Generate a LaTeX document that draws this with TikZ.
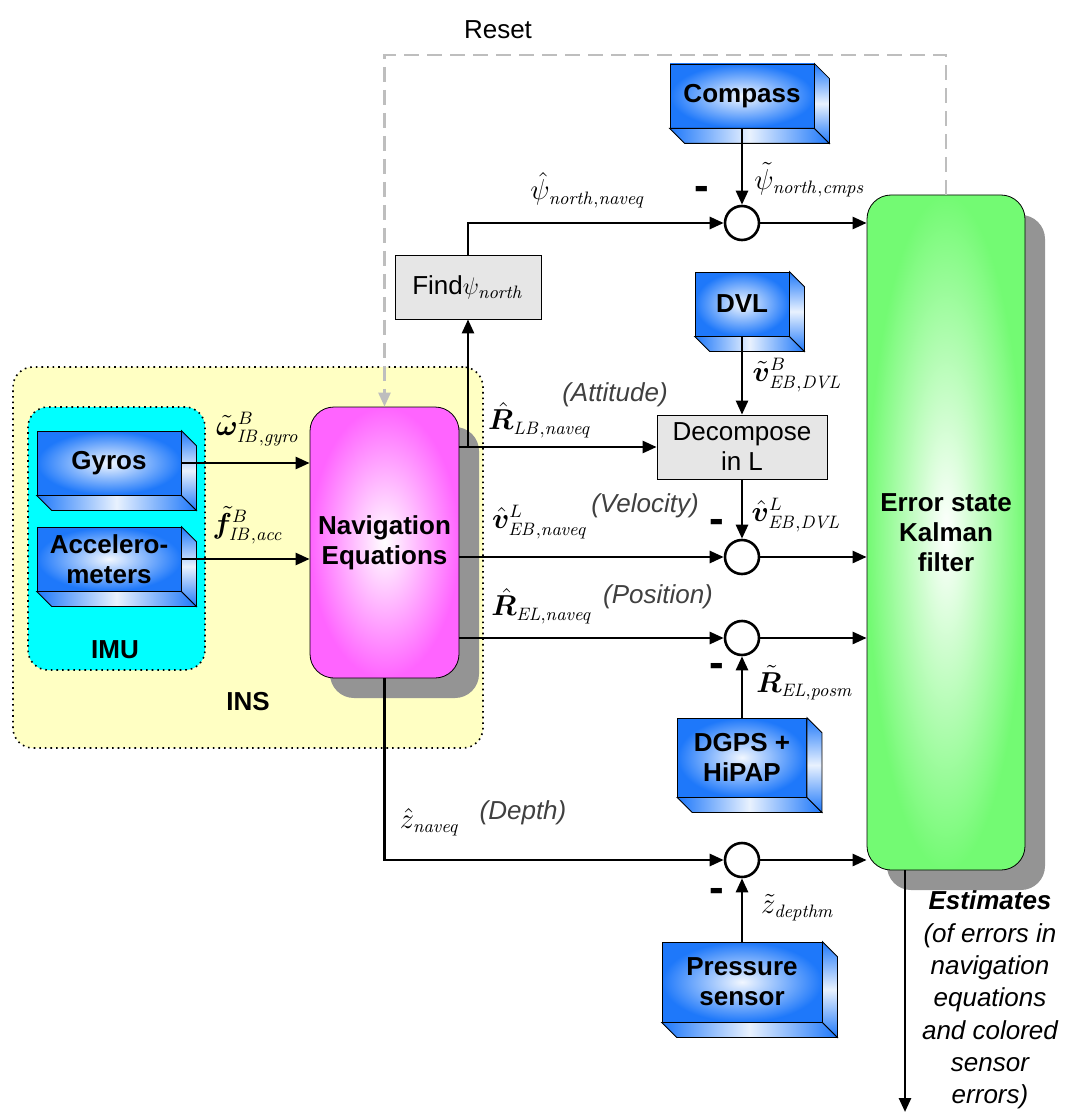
\documentclass[tikz,border=0pt]{standalone}
\usepackage{amsmath,amssymb,bm}
\usepackage[no-math]{fontspec}
\setmainfont{Liberation Sans}
\usetikzlibrary{positioning,arrows.meta,calc,shadows}
\definecolor{boxclr}{RGB}{30,120,250}
\definecolor{navclr}{RGB}{255,100,255}
\definecolor{kalclr}{RGB}{115,250,115}
\definecolor{imuclr}{RGB}{0,255,255}
\definecolor{insclr}{RGB}{255,255,195}
\definecolor{procclr}{RGB}{230,230,230}
\definecolor{rstclr}{RGB}{190,190,190}
\tikzset{
  sensor/.style={rectangle,draw=black,inner color=boxclr!6,outer color=boxclr,
                 font=\fontsize{13}{15}\selectfont\bfseries,align=center,inner sep=1pt},
  proc/.style={rectangle,draw=black,fill=procclr,inner sep=1pt,
               font=\fontsize{13}{15}\selectfont,align=center},
  sumnode/.style={circle,draw=black,line width=1.3pt,fill=white,
                  minimum size=17pt,inner sep=0pt},
  core/.style={rectangle,rounded corners=12pt,draw=black,align=center,
               font=\fontsize{13}{15}\selectfont\bfseries,
               drop shadow={shadow xshift=10pt,shadow yshift=-10pt,
                            fill=black!42,opacity=1}},
  region/.style={rectangle,rounded corners=10pt,draw=black,dotted,thick},
  tag/.style={font=\fontsize{13}{15}\selectfont\bfseries},
  sig/.style={font=\fontsize{13.5}{15}\selectfont,inner sep=0pt},
  note/.style={font=\fontsize{13}{15}\selectfont\itshape,text=black!75,inner sep=0pt},
  minus/.style={font=\fontsize{22}{22}\selectfont\bfseries,inner sep=0pt},
  edge/.style={-{Triangle[length=7pt,width=6pt]},line width=1.3pt},
  reset/.style={-{Triangle[length=7pt,width=6pt]},line width=1.3pt,draw=rstclr,
                dash pattern=on 7.5pt off 4pt},
}
% side faces of a sensor box
\newcommand{\boxsides}[1]{%
  \shadedraw[left color=boxclr,right color=boxclr,middle color=boxclr!10]
    (#1.south west) -- ++(15,15) -- ($(#1.south east)+(15,15)$) -- (#1.south east) -- cycle;
  \shadedraw[top color=boxclr,bottom color=boxclr,middle color=boxclr!10]
    (#1.north east) -- ++(15,15) -- ($(#1.south east)+(15,15)$) -- (#1.south east) -- cycle;
}

\begin{document}
\begin{tikzpicture}[x=0.5pt,y=-0.5pt]
\useasboundingbox (0,0) rectangle (1065,1118);

% INS and IMU regions
\node[region,fill=insclr,minimum width=235pt,minimum height=190.5pt] (ins) at (248,557.5) {};
\node[tag] (instag) at (248,702) {INS};
\node[region,fill=imuclr,minimum width=88.5pt,minimum height=131.5pt] (imu) at (116.5,538.5) {};
\node[tag] (imutag) at (115,650) {IMU};

% Sensors
\node[sensor,minimum width=72pt,minimum height=32pt] (gyro) at (109,463) {Gyros};
\node[sensor,minimum width=72pt,minimum height=32pt] (acc)  at (109,559) {Accelero-\\meters};
\node[sensor,minimum width=72pt,minimum height=32pt] (cmp)  at (742,96)  {Compass};
\node[sensor,minimum width=47pt,minimum height=32pt] (dvl)  at (742,304) {DVL};
\node[sensor,minimum width=64.5pt,minimum height=39.5pt] (gps) at (742,757.5) {DGPS +\\HiPAP};
\node[sensor,minimum width=80pt,minimum height=40pt] (pres) at (742,982) {Pressure\\sensor};
\foreach \b in {gyro,acc,cmp,dvl,gps,pres} {\boxsides{\b}}

% Processing blocks
\node[core,inner color=white,outer color=navclr,minimum width=74.5pt,minimum height=135.5pt]
  (nav) at (384.5,542.5) {Navigation\\Equations};
\node[core,inner color=white,outer color=kalclr,minimum width=79pt,minimum height=337.5pt]
  (kal) at (946,532.5) {Error state\\Kalman\\filter};
\node[proc,minimum width=73pt,minimum height=32pt] (find) at (468,287) {Find$\psi_{\mathit{north}}$};
\node[proc,minimum width=85pt,minimum height=32pt] (dec) at (742,447) {Decompose\\in L};

% Summation points
\node[sumnode] (sumc) at (742,223) {};
\node[sumnode] (sumv) at (742,557) {};
\node[sumnode] (sump) at (742,638) {};
\node[sumnode] (sumd) at (742,860) {};

% Wiring
\draw[edge] (gyro.east) -- (gyro.east -| nav.west);
\draw[edge] (acc.east) -- (acc.east -| nav.west);
\draw[edge] (nav.east |- dec.west) -- (dec.west);
\draw[edge] (find.south |- dec.west) -- (find.south);
\draw[edge] (find.north) |- (sumc);
\draw[edge] (nav.east |- sumv) -- (sumv);
\draw[edge] (nav.east |- sump) -- (sump);
\draw[edge] (nav.south) |- (sumd);
\draw[edge] (cmp.south) -- (sumc);
\draw[edge] (dvl.south) -- (dec.north);
\draw[edge] (dec.south) -- (sumv);
\draw[edge] (gps.north) -- (sump);
\draw[edge] (pres.north) -- (sumd);
\foreach \s in {sumc,sumv,sump,sumd} \draw[edge] (\s) -- (\s -| kal.west);

% Reset feedback
\coordinate (rsttop) at (0,55);
\draw[reset] (kal.north) -- (kal.north |- rsttop) -| (nav.north);
\node[font=\fontsize{13}{15}\selectfont] (rst) at (498,30) {Reset};

% Estimates output
\coordinate (estend) at (905,1112);
\draw[edge] (estend |- kal.south) -- (estend);
\node[font=\fontsize{13}{16.15}\selectfont\itshape,align=center] (est) at (990,1000)
  {\textbf{Estimates}\\(of errors in\\navigation\\equations\\and colored\\sensor\\errors)};

% Signal labels
\node[sig] (lpsin) at (588,190) {$\hat{\psi}_{\mathit{north,naveq}}$};
\node[sig] (lpsic) at (810,180) {$\tilde{\psi}_{\mathit{north,cmps}}$};
\node[sig] (lomg)  at (258,429) {$\tilde{\bm{\omega}}^{B}_{\mathit{IB,gyro}}$};
\node[sig] (lacc)  at (248,525) {$\tilde{\bm{f}}^{B}_{\mathit{IB,acc}}$};
\node[sig] (lrlb)  at (540,420) {$\hat{\bm{R}}_{\mathit{LB,naveq}}$};
\node[sig] (lvdb)  at (797,375) {$\tilde{\bm{v}}^{B}_{\mathit{EB,DVL}}$};
\node[sig] (lvn)   at (540,522) {$\hat{\bm{v}}^{L}_{\mathit{EB,naveq}}$};
\node[sig] (lvdl)  at (796,515) {$\hat{\bm{v}}^{L}_{\mathit{EB,DVL}}$};
\node[sig] (lren)  at (542,606) {$\hat{\bm{R}}_{\mathit{EL,naveq}}$};
\node[sig] (lrep)  at (805,683) {$\tilde{\bm{R}}_{\mathit{EL,posm}}$};
\node[sig] (lzn)   at (430,822) {$\hat{z}_{\mathit{naveq}}$};
\node[sig] (lzd)   at (798,908) {$\tilde{z}_{\mathit{depthm}}$};
\node[note] (natt) at (615,395) {(Attitude)};
\node[note] (nvel) at (645,506) {(Velocity)};
\node[note] (npos) at (658,597) {(Position)};
\node[note] (ndep) at (523,813) {(Depth)};
\foreach \p in {(702,193),(717,526),(717,670),(717,895)} \node[minus] at \p {-};

\end{tikzpicture}
\end{document}
